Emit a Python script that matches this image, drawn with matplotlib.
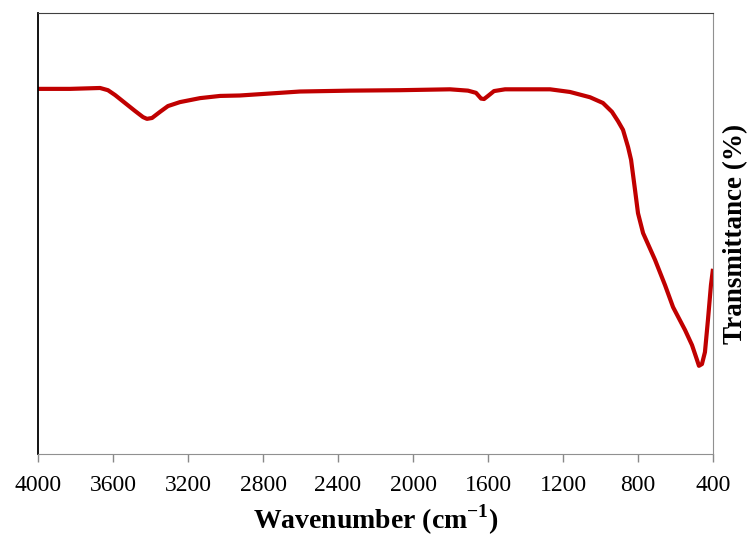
import numpy as np
import matplotlib
matplotlib.use('Agg')
import matplotlib.pyplot as plt

plt.rcParams['font.family'] = ['Liberation Serif', 'DejaVu Serif']
plt.rcParams['mathtext.fontset'] = 'custom'
plt.rcParams['mathtext.rm'] = 'Liberation Serif:bold'
plt.rcParams['mathtext.bf'] = 'Liberation Serif:bold'

# FTIR spectrum (transmittance in arbitrary %)
wavenumber = [4000, 3829, 3669, 3627, 3589, 3536, 3483, 3440, 3419, 3392,
              3349, 3307, 3243, 3136, 3029, 2923, 2816, 2603, 2336, 2069,
              1803, 1707, 1664, 1637, 1621, 1600, 1568, 1509, 1269, 1163,
              1056, 987, 939, 907, 880, 853, 837, 816, 800, 773,
              709, 656, 613, 549, 512, 485, 475, 459, 443, 427,
              411, 400]
transmittance = [82.8, 82.8, 83.0, 82.5, 81.4, 79.6, 77.8, 76.4, 76.0, 76.2,
                 77.6, 78.9, 79.8, 80.7, 81.2, 81.3, 81.6, 82.2, 82.4, 82.5,
                 82.7, 82.4, 81.9, 80.6, 80.5, 81.2, 82.3, 82.7, 82.7, 82.1,
                 80.9, 79.6, 77.6, 75.5, 73.5, 69.6, 66.7, 59.9, 54.6, 50.1,
                 44.0, 38.3, 33.3, 28.1, 24.7, 21.3, 20.0, 20.4, 23.1, 30.4,
                 38.3, 42.0]
xticks = [4000, 3600, 3200, 2800, 2400, 2000, 1600, 1200, 800, 400]

fig = plt.figure(figsize=(7.47, 5.38), dpi=100)
ax = fig.add_axes([0.0509, 0.1561, 0.9036, 0.8197])

ax.plot(wavenumber, transmittance, color='#C00000', lw=3.0,
        solid_joinstyle='round', solid_capstyle='butt')

ax.set_xlim(4000, 400)
ax.set_ylim(0, 100)
ax.set_xticks(xticks)
ax.set_xticklabels([str(t) for t in xticks], fontsize=17)
ax.set_yticks([])
ax.tick_params(axis='x', direction='out', length=6, width=1, color='#888888', pad=9)

ax.spines['left'].set_color('#000000')
ax.spines['left'].set_linewidth(1.3)
ax.spines['top'].set_color('#404040')
ax.spines['right'].set_color('#909090')
ax.spines['bottom'].set_color('#909090')

ax.set_xlabel(r'Wavenumber (cm$^{\mathrm{-1}}$)', fontsize=20, fontweight='bold', labelpad=5)
ax.yaxis.set_label_position('right')
ax.set_ylabel('Transmittance (%)', fontsize=19.5, fontweight='bold', labelpad=7)

fig.savefig('out.png', dpi=100)
